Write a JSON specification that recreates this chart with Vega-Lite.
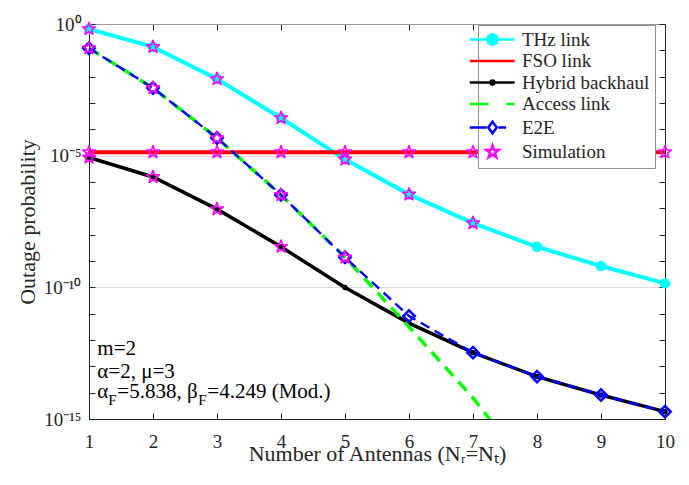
{
  "$schema": "https://vega.github.io/schema/vega-lite/v6.json",
  "width": 576,
  "height": 395,
  "autosize": {"type": "none"},
  "padding": {"left": 89, "top": 24, "right": 24, "bottom": 66},
  "background": "white",
  "config": {
    "view": {"stroke": null},
    "font": "Liberation Serif",
    "axis": {"labelFont": "Liberation Serif", "titleFont": "Liberation Serif", "titleFontWeight": "normal", "labelColor": "#262626", "titleColor": "#262626", "tickColor": "#262626", "domainColor": "#262626", "labelOverlap": false, "labelFlush": false}
  },
  "datasets": {
    "curves": [
      {"s": "THz link", "N": 1, "P": 0.6457},
      {"s": "THz link", "N": 2, "P": 0.1349},
      {"s": "THz link", "N": 3, "P": 0.008128},
      {"s": "THz link", "N": 4, "P": 2.692e-4},
      {"s": "THz link", "N": 5, "P": 7.244e-6},
      {"s": "THz link", "N": 6, "P": 3.388e-7},
      {"s": "THz link", "N": 7, "P": 2.754e-8},
      {"s": "THz link", "N": 8, "P": 3.467e-9},
      {"s": "THz link", "N": 9, "P": 6.457e-10},
      {"s": "THz link", "N": 10, "P": 1.413e-10},
      {"s": "FSO link", "N": 1, "P": 1.349e-5},
      {"s": "FSO link", "N": 2, "P": 1.349e-5},
      {"s": "FSO link", "N": 3, "P": 1.349e-5},
      {"s": "FSO link", "N": 4, "P": 1.349e-5},
      {"s": "FSO link", "N": 5, "P": 1.349e-5},
      {"s": "FSO link", "N": 6, "P": 1.349e-5},
      {"s": "FSO link", "N": 7, "P": 1.349e-5},
      {"s": "FSO link", "N": 8, "P": 1.349e-5},
      {"s": "FSO link", "N": 9, "P": 1.349e-5},
      {"s": "FSO link", "N": 10, "P": 1.349e-5},
      {"s": "Hybrid backhaul", "N": 1, "P": 8.511e-6},
      {"s": "Hybrid backhaul", "N": 2, "P": 1.549e-6},
      {"s": "Hybrid backhaul", "N": 3, "P": 9.333e-8},
      {"s": "Hybrid backhaul", "N": 4, "P": 3.467e-9},
      {"s": "Hybrid backhaul", "N": 5, "P": 9.772e-11},
      {"s": "Hybrid backhaul", "N": 6, "P": 4.365e-12},
      {"s": "Hybrid backhaul", "N": 7, "P": 3.311e-13},
      {"s": "Hybrid backhaul", "N": 8, "P": 4.074e-14},
      {"s": "Hybrid backhaul", "N": 9, "P": 8.128e-15},
      {"s": "Hybrid backhaul", "N": 10, "P": 1.905e-15},
      {"s": "Access link", "N": 1, "P": 0.1202},
      {"s": "Access link", "N": 2, "P": 3.715e-3},
      {"s": "Access link", "N": 3, "P": 4.677e-5},
      {"s": "Access link", "N": 4, "P": 3.236e-7},
      {"s": "Access link", "N": 5, "P": 1.38e-9},
      {"s": "Access link", "N": 6, "P": 3.162e-12},
      {"s": "Access link", "N": 7, "P": 6.31e-15},
      {"s": "Access link", "N": 8, "P": 5.012e-18},
      {"s": "E2E", "N": 1, "P": 0.1202},
      {"s": "E2E", "N": 2, "P": 3.715e-3},
      {"s": "E2E", "N": 3, "P": 4.677e-5},
      {"s": "E2E", "N": 4, "P": 3.236e-7},
      {"s": "E2E", "N": 5, "P": 1.38e-9},
      {"s": "E2E", "N": 6, "P": 8.128e-12},
      {"s": "E2E", "N": 7, "P": 3.311e-13},
      {"s": "E2E", "N": 8, "P": 4.074e-14},
      {"s": "E2E", "N": 9, "P": 8.128e-15},
      {"s": "E2E", "N": 10, "P": 1.905e-15}
    ],
    "sim": [
      {"s": "Simulation", "N": 1, "P": 0.6457},
      {"s": "Simulation", "N": 2, "P": 0.1349},
      {"s": "Simulation", "N": 3, "P": 0.008128},
      {"s": "Simulation", "N": 4, "P": 2.692e-4},
      {"s": "Simulation", "N": 5, "P": 7.244e-6},
      {"s": "Simulation", "N": 6, "P": 3.388e-7},
      {"s": "Simulation", "N": 7, "P": 2.754e-8},
      {"s": "Simulation", "N": 1, "P": 1.349e-5},
      {"s": "Simulation", "N": 2, "P": 1.349e-5},
      {"s": "Simulation", "N": 3, "P": 1.349e-5},
      {"s": "Simulation", "N": 4, "P": 1.349e-5},
      {"s": "Simulation", "N": 5, "P": 1.349e-5},
      {"s": "Simulation", "N": 6, "P": 1.349e-5},
      {"s": "Simulation", "N": 7, "P": 1.349e-5},
      {"s": "Simulation", "N": 8, "P": 1.349e-5},
      {"s": "Simulation", "N": 9, "P": 1.349e-5},
      {"s": "Simulation", "N": 10, "P": 1.349e-5},
      {"s": "Simulation", "N": 1, "P": 8.511e-6},
      {"s": "Simulation", "N": 2, "P": 1.549e-6},
      {"s": "Simulation", "N": 3, "P": 9.333e-8},
      {"s": "Simulation", "N": 4, "P": 3.467e-9},
      {"s": "Simulation", "N": 1, "P": 0.1202},
      {"s": "Simulation", "N": 2, "P": 3.715e-3},
      {"s": "Simulation", "N": 3, "P": 4.677e-5},
      {"s": "Simulation", "N": 4, "P": 3.236e-7},
      {"s": "Simulation", "N": 5, "P": 1.38e-9}
    ],
    "notes": [
      {"id": "l1", "t": "m=2", "N": 1.13, "P": 2.692e-13},
      {"id": "l2", "t": "α=2, μ=3", "N": 1.13, "P": 3.631e-14},
      {"id": "a", "t": "α", "N": 1.13, "P": 6.31e-15},
      {"id": "f1", "t": "F", "N": 1.13, "P": 6.31e-15},
      {"id": "b", "t": "=5.838, β", "N": 1.13, "P": 6.31e-15},
      {"id": "f2", "t": "F", "N": 1.13, "P": 6.31e-15},
      {"id": "c", "t": "=4.249 (Mod.)", "N": 1.13, "P": 6.31e-15}
    ]
  },
  "resolve": {"axis": {"x": "independent", "y": "independent"}},
  "layer": [
    {
      "data": {"name": "curves"},
      "transform": [{"filter": "datum.s === 'THz link'"}],
      "mark": {"type": "line", "color": "#00FFFF", "strokeWidth": 4, "point": {"filled": true, "size": 110, "color": "#00FFFF", "opacity": 1}},
      "encoding": {
        "x": {"field": "N", "type": "quantitative", "scale": {"domain": [1, 10], "nice": false, "zero": false},
          "axis": {"orient": "bottom", "values": [1, 2, 3, 4, 5, 6, 7, 8, 9, 10], "labelFontSize": 19, "tickSize": -6, "labelPadding": 19, "grid": false,
            "title": "Number of Antennas (Nᵣ=Nₜ)", "titleFontSize": 22, "titlePadding": -8}},
        "y": {"field": "P", "type": "quantitative", "scale": {"type": "log", "domain": [1e-15, 1], "nice": false},
          "axis": {"orient": "left", "values": [1e-15, 1e-14, 1e-13, 1e-12, 1e-11, 1e-10, 1e-9, 1e-8, 1e-7, 1e-6, 1e-5, 1e-4, 1e-3, 1e-2, 1e-1, 1],
            "labelExpr": "round(log(datum.value)/LN10) == 0 ? '10⁰' : round(log(datum.value)/LN10) == -5 ? '10⁻⁵' : round(log(datum.value)/LN10) == -10 ? '10⁻¹⁰' : round(log(datum.value)/LN10) == -15 ? '10⁻¹⁵' : ''",
            "labelFontSize": 19, "tickSize": -6, "labelPadding": 14, "labelDy": 2, "grid": true,
            "gridColor": {"condition": {"test": "round(log(datum.value)/LN10) % 5 == 0", "value": "#dcdcdc"}, "value": "transparent"},
            "title": "Outage probability", "titleFontSize": 22, "titlePadding": 4}}
      }
    },
    {
      "data": {"name": "curves"},
      "transform": [{"filter": "datum.s === 'FSO link'"}],
      "mark": {"type": "line", "color": "#FF0000", "strokeWidth": 4},
      "encoding": {
        "x": {"field": "N", "type": "quantitative",
          "axis": {"orient": "top", "values": [1, 2, 3, 4, 5, 6, 7, 8, 9, 10], "labels": false, "tickSize": -6, "grid": false, "title": null, "domainColor": "#9a9a9a"}},
        "y": {"field": "P", "type": "quantitative",
          "axis": {"orient": "right", "values": [1e-15, 1e-14, 1e-13, 1e-12, 1e-11, 1e-10, 1e-9, 1e-8, 1e-7, 1e-6, 1e-5, 1e-4, 1e-3, 1e-2, 1e-1, 1], "labels": false, "tickSize": -6, "grid": false, "title": null}}
      }
    },
    {
      "data": {"name": "curves"},
      "transform": [{"filter": "datum.s === 'Hybrid backhaul'"}],
      "mark": {"type": "line", "color": "#000000", "strokeWidth": 3.5, "point": {"filled": true, "size": 30, "color": "#000000", "opacity": 1}},
      "encoding": {
        "x": {"field": "N", "type": "quantitative", "axis": null},
        "y": {"field": "P", "type": "quantitative", "axis": null}
      }
    },
    {
      "data": {"name": "curves"},
      "transform": [{"filter": "datum.s === 'Access link'"}],
      "mark": {"type": "line", "color": "#00FF00", "strokeWidth": 3.5, "strokeDash": [12, 8], "clip": true},
      "encoding": {
        "x": {"field": "N", "type": "quantitative", "axis": null},
        "y": {"field": "P", "type": "quantitative", "axis": null}
      }
    },
    {
      "data": {"name": "curves"},
      "transform": [{"filter": "datum.s === 'E2E'"}],
      "mark": {"type": "line", "color": "#0000FF", "strokeWidth": 2.4, "strokeDash": [10, 6], "point": {"shape": "diamond", "filled": false, "size": 130, "strokeWidth": 2.5, "color": "#0000FF", "opacity": 1}},
      "encoding": {
        "x": {"field": "N", "type": "quantitative", "axis": null},
        "y": {"field": "P", "type": "quantitative", "axis": null}
      }
    },
    {
      "data": {"name": "sim"},
      "mark": {"type": "point", "size": 180, "strokeWidth": 1.6, "strokeJoin": "round", "opacity": 1},
      "encoding": {
        "x": {"field": "N", "type": "quantitative", "axis": null},
        "y": {"field": "P", "type": "quantitative", "axis": null},
        "stroke": {"field": "s", "type": "nominal",
          "scale": {"domain": ["THz link", "FSO link", "Hybrid backhaul", "Access link", "E2E", "Simulation"], "range": ["#00FFFF", "#FF0000", "#000000", "#00FF00", "#0000FF", "#FF00FF"]},
          "legend": {"title": null, "orient": "none", "legendX": 389, "legendY": 1, "fillColor": "white", "strokeColor": "#8c8c8c", "padding": 5,
            "labelFont": "Liberation Serif", "labelFontSize": 19, "labelColor": "#262626", "symbolSize": 169, "symbolStrokeWidth": 2.5, "labelOffset": 20, "rowPadding": 1.5, "symbolOpacity": 1, "labelLimit": 300}},
        "fill": {"field": "s", "type": "nominal",
          "scale": {"domain": ["THz link", "FSO link", "Hybrid backhaul", "Access link", "E2E", "Simulation"], "range": ["#00FFFF", "transparent", "#000000", "transparent", "transparent", "transparent"]},
          "legend": {"title": null}},
        "shape": {"field": "s", "type": "nominal",
          "scale": {"domain": ["THz link", "FSO link", "Hybrid backhaul", "Access link", "E2E", "Simulation"],
            "range": [
              "M-3.5,0H3.4M0.8,0A0.8,0.8,0,1,1,-0.8,0A0.8,0.8,0,1,1,0.8,0",
              "M-3.5,0H3.4",
              "M-3.5,0H3.4M0.3,0A0.3,0.3,0,1,1,-0.3,0A0.3,0.3,0,1,1,0.3,0",
              "M-3.5,0H-0.6M2.1,0H3.4",
              "M-3.5,0H-0.9M0,-0.9L0.65,0L0,0.9L-0.65,0ZM0.9,0H2.1",
              "M0,-1L0.235,-0.324L0.951,-0.309L0.38,0.124L0.588,0.809L0,0.4L-0.588,0.809L-0.38,0.124L-0.951,-0.309L-0.235,-0.324Z"
            ]},
          "legend": {"title": null}}
      }
    },
    {
      "data": {"name": "notes"},
      "transform": [{"filter": "datum.id === 'l1' || datum.id === 'l2' || datum.id === 'a'"}],
      "mark": {"type": "text", "align": "left", "baseline": "alphabetic", "font": "Liberation Serif", "fontSize": 21, "color": "#000000"},
      "encoding": {
        "x": {"field": "N", "type": "quantitative", "axis": null},
        "y": {"field": "P", "type": "quantitative", "axis": null},
        "text": {"field": "t"}
      }
    },
    {
      "data": {"name": "notes"},
      "transform": [{"filter": "datum.id === 'f1'"}],
      "mark": {"type": "text", "align": "left", "baseline": "alphabetic", "font": "Liberation Serif", "fontSize": 15, "dx": 11, "dy": 7, "color": "#000000"},
      "encoding": {
        "x": {"field": "N", "type": "quantitative", "axis": null},
        "y": {"field": "P", "type": "quantitative", "axis": null},
        "text": {"field": "t"}
      }
    },
    {
      "data": {"name": "notes"},
      "transform": [{"filter": "datum.id === 'b'"}],
      "mark": {"type": "text", "align": "left", "baseline": "alphabetic", "font": "Liberation Serif", "fontSize": 21, "dx": 20, "color": "#000000"},
      "encoding": {
        "x": {"field": "N", "type": "quantitative", "axis": null},
        "y": {"field": "P", "type": "quantitative", "axis": null},
        "text": {"field": "t"}
      }
    },
    {
      "data": {"name": "notes"},
      "transform": [{"filter": "datum.id === 'f2'"}],
      "mark": {"type": "text", "align": "left", "baseline": "alphabetic", "font": "Liberation Serif", "fontSize": 15, "dx": 101, "dy": 7, "color": "#000000"},
      "encoding": {
        "x": {"field": "N", "type": "quantitative", "axis": null},
        "y": {"field": "P", "type": "quantitative", "axis": null},
        "text": {"field": "t"}
      }
    },
    {
      "data": {"name": "notes"},
      "transform": [{"filter": "datum.id === 'c'"}],
      "mark": {"type": "text", "align": "left", "baseline": "alphabetic", "font": "Liberation Serif", "fontSize": 21, "dx": 110, "color": "#000000"},
      "encoding": {
        "x": {"field": "N", "type": "quantitative", "axis": null},
        "y": {"field": "P", "type": "quantitative", "axis": null},
        "text": {"field": "t"}
      }
    }
  ]
}
